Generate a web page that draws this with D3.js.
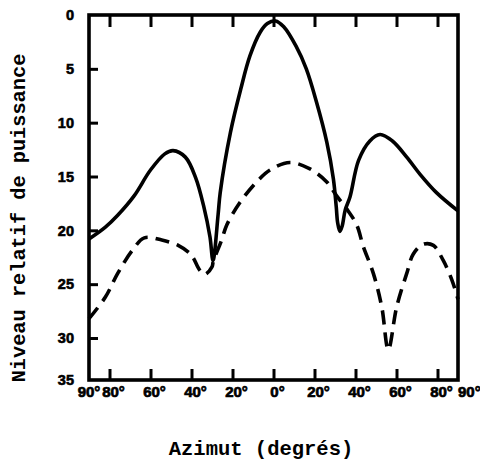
<!DOCTYPE html>
<html>
<head>
<meta charset="utf-8">
<script src="https://cdn.jsdelivr.net/npm/d3@7/dist/d3.min.js"></script>
<style>
  html, body { margin: 0; padding: 0; background: #fff; }
  svg { display: block; }
</style>
</head>
<body>
<svg id="chart" width="480" height="462"></svg>
<script>
// ---- Data ----
const solidAzimuth = [-90, -82, -76, -68, -60, -53, -49, -43, -38, -34, -31, -29.5, -27, -26, -21, -16, -11.5, -6.5, -3, 1, 5, 11, 16, 21, 26, 29.2, 30.6, 31.3, 32.4, 33.5, 35, 37.3, 41.5, 47, 52, 58, 65, 71.5, 79.5, 90];
const solidLevel   = [20.8, 19.7, 18.6, 16.8, 14.4, 12.9, 12.6, 13.2, 15.1, 17.8, 20.6, 22.8, 18.5, 16.5, 10.9, 6.9, 3.8, 1.6, 0.8, 0.55, 1.1, 2.9, 5.0, 8.1, 11.8, 15.2, 17.8, 19.3, 20.1, 19.6, 18.1, 16.9, 13.5, 11.7, 11.1, 11.7, 13.2, 14.8, 16.5, 18.2];

const dashedAzimuth = [-90, -82, -76, -69, -63, -54.5, -46.5, -40.5, -39, -36, -33.5, -30, -29.4, -25.3, -22.8, -16.3, -8.2, -1.7, 8, 17.8, 26, 30.8, 35.7, 40.6, 43.8, 48.7, 52.8, 56, 60.1, 65, 68.2, 73, 78, 82.8, 87, 90];
const dashedLevel   = [28.2, 26.2, 24.0, 21.9, 20.7, 20.9, 21.4, 22.2, 22.6, 23.7, 24.1, 23.4, 22.9, 20.9, 19.5, 17.4, 15.5, 14.4, 13.7, 14.3, 15.5, 16.8, 18.0, 19.5, 21.5, 24.0, 27.1, 31.4, 27.1, 24.0, 22.2, 21.3, 21.4, 22.8, 24.6, 26.4];

const xTickValues = [-90, -80, -60, -40, -20, 0, 20, 40, 60, 80, 90];
const xTickLabels = ["90°", "80°", "60°", "40°", "20°", "0°", "20°", "40°", "60°", "80°", "90°"];
const yTickValues = [0, 5, 10, 15, 20, 25, 30, 35];
const yTickLabels = ["0", "5", "10", "15", "20", "25", "30", "35"];

const xTitle = "Azimut (degrés)";
const yTitle = "Niveau relatif de puissance";

// ---- Layout ----
const svg = d3.select("#chart");
const plotLeft = 89, plotRight = 458, plotTop = 15, plotBottom = 380;

const x = d3.scaleLinear().domain([-90, 90]).range([plotLeft, plotRight]);
// the hand-drawn original compresses its last (30-35) interval
const y = d3.scaleLinear().domain([0, 30, 35]).range([plotTop, 338, plotBottom]);

const ink = "#000";
const tickFont = "'Liberation Sans', Arial, sans-serif";
const titleFont = "'Liberation Mono', 'Courier New', monospace";

// curves
const line = d3.line()
  .x(d => x(d[0]))
  .y(d => y(d[1]))
  .curve(d3.curveCatmullRom.alpha(0.5));

const solid = d3.zip(solidAzimuth, solidLevel);
const dashed = d3.zip(dashedAzimuth, dashedLevel);

svg.append("path")
  .datum(dashed)
  .attr("d", line)
  .attr("fill", "none")
  .attr("stroke", ink)
  .attr("stroke-width", 3.6)
  .attr("stroke-dasharray", "14,8");

svg.append("path")
  .datum(solid)
  .attr("d", line)
  .attr("fill", "none")
  .attr("stroke", ink)
  .attr("stroke-width", 3.6)
  .attr("stroke-linejoin", "round");

// ---- Axes ----
const innerX = xTickValues.filter(v => v > -90 && v < 90);
const innerY = yTickValues.filter(v => v > 0 && v < 35);

const gBottom = svg.append("g")
  .attr("transform", `translate(0,${plotBottom})`)
  .call(d3.axisBottom(x).tickValues(innerX).tickSize(-11).tickFormat(""));
const gTop = svg.append("g")
  .attr("transform", `translate(0,${plotTop})`)
  .call(d3.axisTop(x).tickValues(innerX).tickSize(-12).tickFormat(""));
const gLeft = svg.append("g")
  .attr("transform", `translate(${plotLeft},0)`)
  .call(d3.axisLeft(y).tickValues(innerY).tickSize(-9).tickFormat(""));

[gBottom, gTop, gLeft].forEach(g => {
  g.select(".domain").remove();
  g.selectAll(".tick line").attr("stroke", ink).attr("stroke-width", 3);
});

// frame
svg.append("rect")
  .attr("x", plotLeft).attr("y", plotTop)
  .attr("width", plotRight - plotLeft).attr("height", plotBottom - plotTop)
  .attr("fill", "none")
  .attr("stroke", ink)
  .attr("stroke-width", 3.6);

// x tick labels
svg.append("g").selectAll("text")
  .data(xTickValues)
  .join("text")
  .attr("x", d => x(d))
  .attr("y", 397)
  .attr("dx", (d, i) => (i === 0 || i === xTickValues.length - 1) ? 0 : 4)
  .attr("text-anchor", (d, i) => i === xTickValues.length - 1 ? "start" : "middle")
  .attr("font-family", tickFont)
  .attr("font-weight", "bold")
  .attr("font-size", 15)
  .attr("fill", ink)
  .attr("stroke", ink)
  .attr("stroke-width", 0.7)
  .text((d, i) => xTickLabels[i]);

// y tick labels
svg.append("g").selectAll("text")
  .data(yTickValues)
  .join("text")
  .attr("x", 74)
  .attr("y", d => y(d))
  .attr("dy", "0.36em")
  .attr("text-anchor", "end")
  .attr("font-family", tickFont)
  .attr("font-weight", "bold")
  .attr("font-size", 14.5)
  .attr("fill", ink)
  .attr("stroke", ink)
  .attr("stroke-width", 0.6)
  .text((d, i) => yTickLabels[i]);

// axis titles
svg.append("text")
  .attr("x", 261)
  .attr("y", 455)
  .attr("text-anchor", "middle")
  .attr("font-family", titleFont)
  .attr("font-weight", "bold")
  .attr("font-size", 20.5)
  .attr("fill", ink)
  .text(xTitle);

svg.append("text")
  .attr("transform", "translate(25,218) rotate(-90)")
  .attr("text-anchor", "middle")
  .attr("font-family", titleFont)
  .attr("font-weight", "bold")
  .attr("font-size", 20.3)
  .attr("fill", ink)
  .text(yTitle);
</script>
</body>
</html>
